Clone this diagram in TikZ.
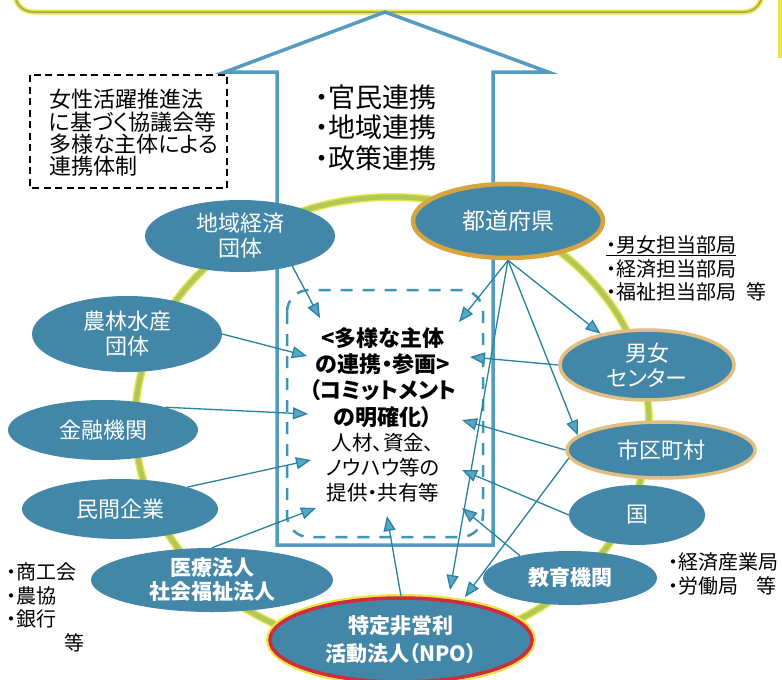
\documentclass[tikz,border=0pt]{standalone}
\usepackage{fontspec}
\setmainfont{Noto Sans CJK JP}[RawFeature=+palt]
\usetikzlibrary{shapes.geometric,arrows.meta}
\definecolor{nodeblue}{RGB}{66,134,168}
\definecolor{arr}{RGB}{38,130,160}
\definecolor{arrfill}{RGB}{90,165,195}
\definecolor{ringgreen}{RGB}{176,200,90}
\definecolor{ringyellow}{RGB}{238,228,70}
\definecolor{shaftblue}{RGB}{85,155,192}
\definecolor{dboxblue}{RGB}{60,150,180}
\definecolor{goldrim}{RGB}{215,165,60}
\definecolor{tanrim}{RGB}{225,190,130}
\definecolor{npored}{RGB}{205,45,60}
\definecolor{topolive}{RGB}{150,170,90}
\tikzset{
  blob/.style={ellipse, fill=nodeblue, text=white, inner sep=0pt, align=center,
    font=\fontsize{22}{25}\selectfont},
  link/.style={draw=arr, line width=1.3pt, -{Triangle[length=15pt,width=12pt,fill=arrfill]}},
  lbl/.style={anchor=west, align=left, text=black, inner sep=0pt, font=\fontsize{20}{23.5}\selectfont},
}
\begin{document}
\begin{tikzpicture}[x=1pt,y=-1pt]
\useasboundingbox (0,0) rectangle (782,680);
\fill[white] (0,0) rectangle (782,680);
% top box
\draw[ringyellow, line width=5pt, rounded corners=18pt] (15,-40) rectangle (762,12);
\draw[topolive, line width=1.5pt, rounded corners=18pt] (15,-40) rectangle (762,12);
\draw[ringyellow, line width=4pt] (780,0) -- (780,58);
% big arrow
\draw[shaftblue, line width=3.5pt, fill=white, line join=miter]
  (277,545) -- (277,72) -- (225,72) -- (385,12) -- (548,72) -- (493,72) -- (493,545) -- cycle;
% ring
\draw[ringyellow, line width=8pt] (392,423) ellipse [x radius=257, y radius=226];
\draw[ringgreen, line width=5pt] (392,423) ellipse [x radius=257, y radius=226];
% black dashed box
\draw[black, line width=1.8pt, dash pattern=on 7pt off 4.5pt] (30,75) rectangle (227,188);
\node[lbl, font=\fontsize{22}{22.3}\selectfont] (law) at (49,133) {女性活躍推進法\\に基づく協議会等\\多様な主体による\\連携体制};
% bullets
\node[lbl, font=\fontsize{27}{30.5}\selectfont] (rk) at (315,127.5) {・官民連携\\・地域連携\\・政策連携};
% center dashed box
\draw[dboxblue, rounded corners=22pt, dash pattern=on 12pt off 10pt, line width=2.5pt] (287,290) rectangle (483,537);
\node[font=\bfseries\fontsize{22}{26.3}\selectfont, align=center, inner sep=0pt] (ct1) at (383,377.5) {<多様な主体\\の連携・参画>\\（コミットメント\\の明確化）};
\node[font=\fontsize{20.5}{25}\selectfont, align=center, inner sep=0pt] (ct2) at (383,468) {人材、資金、\\ノウハウ等の\\提供・共有等};
% ellipses
\node[blob, minimum width=190pt, minimum height=72pt] (dk) at (240,236) {地域経済\\団体};
\node[blob, minimum width=190pt, minimum height=76pt] (nr) at (127,334) {農林水産\\団体};
\node[blob, minimum width=190pt, minimum height=60pt] (kin) at (103,430) {金融機関};
\node[blob, minimum width=196pt, minimum height=60pt] (mk) at (120,509) {民間企業};
\node[blob, minimum width=242pt, minimum height=64pt, font=\bfseries\fontsize{21}{24}\selectfont] (iryo) at (212,580) {医療法人\\社会福祉法人};
\node[blob, minimum width=262pt, minimum height=84pt, font=\bfseries\fontsize{21}{28}\selectfont,
  draw=npored, line width=3.5pt, preaction={draw=ringyellow, line width=8pt}] (npo) at (401,640) {特定非営利\\活動法人（NPO）};
\node[blob, minimum width=174pt, minimum height=54pt, font=\bfseries\fontsize{21}{24}\selectfont] (kyo) at (570,578) {教育機関};
\node[blob, minimum width=136pt, minimum height=60pt] (kuni) at (637,515) {国};
\node[blob, minimum width=188pt, minimum height=56pt, draw=tanrim, line width=3.5pt] (shiku) at (661,450) {市区町村};
\node[blob, minimum width=174pt, minimum height=70pt, draw=tanrim, line width=3.5pt] (danjo) at (647,365) {男女\\センター};
\node[blob, minimum width=190pt, minimum height=74pt, draw=goldrim, line width=4.5pt, font=\fontsize{23}{26}\selectfont] (todo) at (508,221) {都道府県};
% arrow end points
\coordinate (cA) at (320,318);
\coordinate (cB) at (307,356);
\coordinate (cC) at (308,414);
\coordinate (cD) at (311,460);
\coordinate (cE) at (316,508);
\coordinate (cF) at (387,516);
\coordinate (cG) at (459,322);
\coordinate (cK) at (470,357);
\coordinate (cL) at (462,420);
\coordinate (cM) at (462,470);
\coordinate (cN) at (462,508);
\coordinate (npoA) at (450,590);
\coordinate (npoB) at (465,597);
% connectors
\draw[link] (dk.-30) -- (cA);
\draw[link] (nr.east) -- (cB);
\draw[link] (kin.20) -- (cC);
\draw[link] (mk.18) -- (cD);
\draw[link] (iryo.north) -- (cE);
\draw[link] (npo.north) -- (cF);
\draw[link] (todo.south) -- (cG);
\draw[link] (todo.south) -- (danjo.146);
\draw[link] (todo.south) -- (shiku.170);
\draw[link] (todo.south) -- (npoA);
\draw[link] (shiku.185) -- (npoB);
\draw[link] (danjo.west) -- (cK);
\draw[link] (shiku.west) -- (cL);
\draw[link] (kuni.west) -- (cM);
\draw[link] (kyo.156) -- (cN);
% side labels
\node[lbl] (pref) at (606,268.5) {\underline{・男女担当部局}\\・経済担当部局\\・福祉担当部局\hspace{10pt}等};
\node[lbl] (natl) at (668,574) {・経済産業局\\・労働局\hspace{18pt}等};
\node[lbl] (loc) at (6,607.5) {・商工会\\・農協\\・銀行\\\hspace{58pt}等};
\end{tikzpicture}
\end{document}
